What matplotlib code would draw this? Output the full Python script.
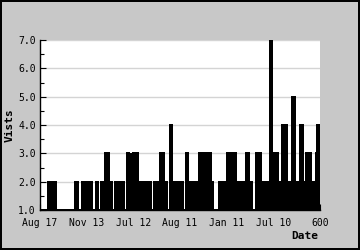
import numpy as np
import matplotlib
matplotlib.use('Agg')
import matplotlib.pyplot as plt
from matplotlib.ticker import MultipleLocator

#=============== data (visits per day) ===============
# run-length encoded: value repeated for run_lens days, days 0 .. 599
run_vals = [1, 2, 1, 2, 1, 2, 1, 2, 1, 2,
            1, 2, 1, 2, 1, 2, 1, 2, 1, 2,
            3, 1, 2, 1, 2, 1, 2, 1, 2, 1,
            3, 1, 3, 1, 3, 2, 1, 3, 2, 1,
            2, 1, 2, 1, 2, 3, 2, 1, 4, 2,
            1, 2, 1, 3, 1, 2, 1, 2, 1, 2,
            3, 2, 3, 2, 3, 2, 3, 2, 1, 2,
            1, 3, 2, 3, 2, 3, 2, 3, 2, 1,
            2, 1, 2, 1, 2, 3, 2, 1, 3, 2,
            7, 3, 2, 4, 2, 4, 2, 5, 2, 1,
            4, 2, 3, 2, 3, 2, 3, 4]
run_lens = [17, 4, 3, 2, 4, 4, 41, 6, 8, 4,
            1, 2, 3, 4, 4, 4, 10, 3, 7, 9,
            7, 3, 4, 6, 3, 1, 6, 4, 7, 5,
            4, 4, 1, 4, 2, 3, 2, 4, 13, 4,
            3, 4, 4, 6, 13, 9, 7, 6, 4, 7,
            3, 14, 6, 4, 1, 5, 3, 4, 4, 7,
            5, 1, 4, 3, 3, 6, 4, 4, 12, 17,
            1, 6, 1, 3, 2, 2, 1, 3, 3, 3,
            5, 1, 4, 4, 3, 5, 7, 9, 11, 19,
            4, 14, 7, 5, 2, 5, 11, 5, 9, 3,
            5, 6, 3, 4, 5, 10, 3, 6]
visits = np.repeat(run_vals, run_lens)
days = np.arange(len(visits))

tick_pos = [0, 100, 200, 300, 400, 500, 600]
tick_labels = ['Aug 17', 'Nov 13', 'Jul 12', 'Aug 11', 'Jan 11', 'Jul 10', '600']

#=============== plot ===============
plt.rcParams['font.family'] = 'DejaVu Sans Mono'

fig = plt.figure(figsize=(3.6, 2.5), dpi=100)
fig.patch.set_facecolor('#c8c8c8')
fig.patch.set_edgecolor('black')
fig.patch.set_linewidth(1.5)

ax = fig.add_axes([40 / 360, 40 / 250, 280 / 360, 170 / 250])
ax.set_facecolor('white')

# orange bars with black outline; at under a pixel per bar the outline wins
base = 1.0
ax.bar(days, visits - base, bottom=base, width=1.0, align='edge',
       color='#ffa500', edgecolor='black', linewidth=0.25,
       antialiased=False, zorder=2)

ax.set_ylim(1.0, 7.0)
ax.set_xlim(0, 600)
ax.yaxis.set_minor_locator(MultipleLocator(0.5))
ax.set_yticks(np.arange(1, 8))
ax.set_yticklabels(['%.1f' % v for v in np.arange(1, 8)])
ax.set_xticks(tick_pos)
ax.set_xticklabels(tick_labels)

ax.grid(axis='y', which='major', color='#d4d4d4', linewidth=1.0, zorder=0)
ax.set_axisbelow(True)

ax.tick_params(axis='both', which='major', direction='in', length=4,
               width=0.8, labelsize=7, color='black')
ax.tick_params(axis='x', which='major', pad=6)
ax.tick_params(axis='y', which='major', pad=3)
ax.tick_params(axis='y', which='minor', direction='in', length=3, width=0.8)

for s in ['top', 'right']:
    ax.spines[s].set_visible(False)
for s in ['left', 'bottom']:
    ax.spines[s].set_linewidth(1.0)
    ax.spines[s].set_zorder(3)

fig.text(10 / 360, 1 - 125 / 250, 'Vists', rotation=90, fontsize=8,
         fontweight='bold', ha='center', va='center')
fig.text(305 / 360, 1 - 236 / 250, 'Date', fontsize=8,
         fontweight='bold', ha='center', va='center')

fig.savefig('out.png', dpi=100, facecolor=fig.get_facecolor(),
            edgecolor=fig.get_edgecolor())
